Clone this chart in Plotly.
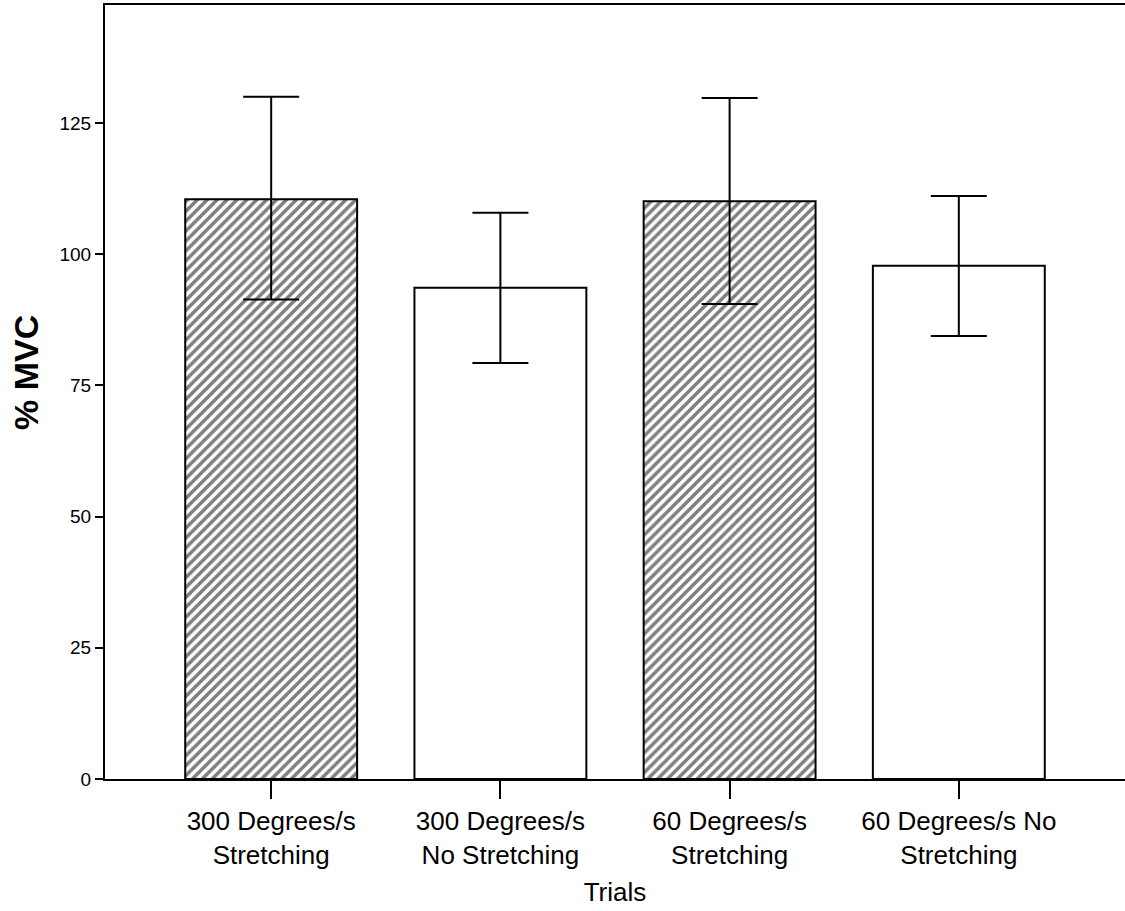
import plotly.graph_objects as go

categories = ["300 Degrees/s<br>Stretching", "300 Degrees/s<br>No Stretching",
              "60 Degrees/s<br>Stretching", "60 Degrees/s No<br>Stretching"]
means = [110.5, 93.6, 110.1, 97.8]
err_upper = [130.0, 107.9, 129.8, 111.1]
err_lower = [91.4, 79.3, 90.5, 84.4]
patterns = ["/", "", "/", ""]
y_ticks = [0, 25, 50, 75, 100, 125]

plus = [u - m for u, m in zip(err_upper, means)]
minus = [m - l for m, l in zip(means, err_lower)]

fig = go.Figure()
fig.add_trace(go.Bar(
    x=list(range(len(categories))), y=means, width=0.75,
    marker=dict(color="white", line=dict(color="black", width=2),
                pattern=dict(shape=patterns, fgcolor="black", bgcolor="white",
                             size=7, solidity=0.5)),
    error_y=dict(type="data", array=plus, arrayminus=minus, symmetric=False,
                 color="black", thickness=2, width=28),
    showlegend=False,
))

font = "Liberation Sans, Arial, sans-serif"
L, T, B = 105, 5, 132
H = 911
fig.update_layout(
    width=1125, height=H,
    margin=dict(l=L, r=0, t=T, b=B, autoexpand=False),
    paper_bgcolor="white", plot_bgcolor="white",
    font=dict(family=font, color="black"),
    xaxis=dict(
        range=[-0.725, 3.725], tickmode="array", tickvals=list(range(len(categories))),
        ticktext=categories, ticks="outside", ticklen=18, tickwidth=2, tickcolor="black",
        showline=True, linecolor="black", linewidth=2, mirror=True,
        showgrid=False, zeroline=False, tickfont=dict(size=26, family=font),
        automargin=False,
        title=dict(text="Trials", font=dict(size=26, family=font), standoff=14),
    ),
    yaxis=dict(
        range=[0, 147.5], tickvals=y_ticks, ticks="outside", ticklen=8, tickwidth=2,
        tickcolor="black", showline=True, linecolor="black", linewidth=2,
        showgrid=False, zeroline=False, tickfont=dict(size=19, family=font),
        automargin=False,
    ),
)
plot_h = H - T - B
fig.add_annotation(
    text="<b>% MVC</b>", textangle=-90, showarrow=False,
    xref="paper", yref="paper", x=(26 - L) / 1020, y=(H - B - 373) / plot_h,
    xanchor="center", yanchor="middle", font=dict(size=34, family=font),
)

fig.write_html("out.html", config={"displayModeBar": False},
               post_script="document.body.style.margin='0';")
